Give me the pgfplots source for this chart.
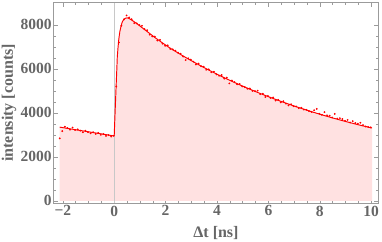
\documentclass[border=0pt]{standalone}
\usepackage{fontspec}
\setmainfont{Liberation Serif}
\usepackage{pgfplots}
\pgfplotsset{compat=1.18}
\definecolor{txtgray}{RGB}{102,102,102}
\definecolor{frgray}{RGB}{155,155,155}
\definecolor{fillpink}{RGB}{255,225,225}
\definecolor{zerogray}{RGB}{200,200,200}
\begin{document}
\begin{tikzpicture}
\begin{axis}[
  scale only axis, width=325.4bp, height=200.3bp,
  xmin=-2.37, xmax=10.29, ymin=-100, ymax=9010,
  axis line style={frgray, line width=0.6bp},
  tick style={frgray, line width=0.5bp},
  tick align=inside,
  major tick length=4.5bp, minor tick length=2.5bp,
  xtick={-2,0,2,4,6,8,10},
  xticklabels={−2,0,2,4,6,8,10},
  ytick={0,2000,4000,6000,8000},
  yticklabels={0,2000,4000,6000,8000},
  minor x tick num=3, minor y tick num=3,
  ticklabel style={font=\fontsize{15.5bp}{17bp}\selectfont\bfseries, text=txtgray},
  yticklabel style={inner sep=1.5bp},
  xticklabel style={inner sep=2.5bp},
  label style={font=\fontsize{16bp}{18bp}\selectfont\bfseries, text=txtgray},
  xlabel={Δt [ns]},
  ylabel={intensity [counts]},
  xlabel style={at={(axis description cs:0.5,-0.15)}, anchor=center},
  ylabel style={at={(axis description cs:-0.136,0.5)}, anchor=center},
  clip=false,
]
% filled area under fit
\addplot[draw=none, fill=fillpink, forget plot] coordinates {
(-2.12,0) (-2.12,3350) (-0.01,2950) (0.0,2960) (0.02,3600) (0.05,4500) (0.07,5100) (0.1,5950) (0.12,6550) (0.15,7000) (0.18,7370) (0.22,7700) (0.27,7970) (0.32,8150) (0.38,8260) (0.45,8310) (0.51,8320) (0.58,8290)
(0.68,8220) (0.78,8140) (0.88,8060) (0.98,7970) (1.08,7880) (1.18,7790) (1.28,7700) (1.38,7610) (1.48,7520) (1.58,7430) (1.68,7345) (1.78,7262) (1.88,7180) (1.98,7100) (2.08,7020) (2.18,6940) (2.28,6868) (2.38,6797) (2.48,6726) (2.58,6657) (2.68,6588) (2.78,6520) (2.88,6453) (2.98,6387) (3.08,6322) (3.18,6258) (3.28,6194) (3.38,6131) (3.48,6069) (3.58,6008) (3.68,5947) (3.78,5887) (3.88,5828) (3.98,5770) (4.08,5712) (4.18,5656) (4.28,5599) (4.38,5544) (4.48,5489) (4.58,5435) (4.68,5381) (4.78,5329) (4.88,5277) (4.98,5225) (5.08,5174) (5.18,5124) (5.28,5074) (5.38,5025) (5.48,4977) (5.58,4929) (5.68,4882) (5.78,4836) (5.88,4790) (5.98,4744) (6.08,4699) (6.18,4655) (6.28,4611) (6.38,4568) (6.48,4525) (6.58,4483) (6.68,4442) (6.78,4401) (6.88,4360) (6.98,4320) (7.08,4280) (7.18,4241) (7.28,4203) (7.38,4165) (7.48,4127) (7.58,4090) (7.68,4053) (7.78,4017) (7.88,3981) (7.98,3945) (8.08,3911) (8.18,3876) (8.28,3842) (8.38,3808) (8.48,3775) (8.58,3742) (8.68,3710) (8.78,3678) (8.88,3646) (8.98,3615) (9.08,3584) (9.18,3554) (9.28,3524) (9.38,3494) (9.48,3465) (9.58,3436) (9.68,3407) (9.78,3379) (9.88,3351) (9.98,3323) (10.03,3310) (10.03,0)
} -- cycle;
% zero line
\addplot[zerogray, line width=0.8bp, forget plot] coordinates {(0,-100) (0,9010)};
% fit line
\addplot[red, line width=0.95bp, forget plot] coordinates {
(-2.12,3350) (-0.01,2950) (0.0,2960) (0.02,3600) (0.05,4500) (0.07,5100) (0.1,5950) (0.12,6550) (0.15,7000) (0.18,7370) (0.22,7700) (0.27,7970) (0.32,8150) (0.38,8260) (0.45,8310) (0.51,8320) (0.58,8290)
(0.68,8220) (0.78,8140) (0.88,8060) (0.98,7970) (1.08,7880) (1.18,7790) (1.28,7700) (1.38,7610) (1.48,7520) (1.58,7430) (1.68,7345) (1.78,7262) (1.88,7180) (1.98,7100) (2.08,7020) (2.18,6940) (2.28,6868) (2.38,6797) (2.48,6726) (2.58,6657) (2.68,6588) (2.78,6520) (2.88,6453) (2.98,6387) (3.08,6322) (3.18,6258) (3.28,6194) (3.38,6131) (3.48,6069) (3.58,6008) (3.68,5947) (3.78,5887) (3.88,5828) (3.98,5770) (4.08,5712) (4.18,5656) (4.28,5599) (4.38,5544) (4.48,5489) (4.58,5435) (4.68,5381) (4.78,5329) (4.88,5277) (4.98,5225) (5.08,5174) (5.18,5124) (5.28,5074) (5.38,5025) (5.48,4977) (5.58,4929) (5.68,4882) (5.78,4836) (5.88,4790) (5.98,4744) (6.08,4699) (6.18,4655) (6.28,4611) (6.38,4568) (6.48,4525) (6.58,4483) (6.68,4442) (6.78,4401) (6.88,4360) (6.98,4320) (7.08,4280) (7.18,4241) (7.28,4203) (7.38,4165) (7.48,4127) (7.58,4090) (7.68,4053) (7.78,4017) (7.88,3981) (7.98,3945) (8.08,3911) (8.18,3876) (8.28,3842) (8.38,3808) (8.48,3775) (8.58,3742) (8.68,3710) (8.78,3678) (8.88,3646) (8.98,3615) (9.08,3584) (9.18,3554) (9.28,3524) (9.38,3494) (9.48,3465) (9.58,3436) (9.68,3407) (9.78,3379) (9.88,3351) (9.98,3323) (10.03,3310)
};
% data points
\addplot[only marks, mark=*, mark size=0.7bp, red, forget plot] coordinates {
(-2.12,2840) (-2.02,3170) (-1.92,3370) (-1.82,3310) (-1.72,3240) (-1.62,3330) (-1.52,3220) (-1.42,3250) (-1.32,3190) (-1.22,3120) (-1.12,3190) (-1.02,3120) (-0.92,3070) (-0.82,3120) (-0.72,3040) (-0.62,3090) (-0.52,3000) (-0.42,3040) (-0.32,2950) (-0.22,2990) (-0.12,2920) (-0.02,2960)
(0.08,5200) (0.18,7200) (0.28,7960) (0.38,8250) (0.48,8430) (0.58,8340) (0.68,8260) (0.78,8080) (0.88,8070) (0.98,7990) (1.08,7960) (1.18,7810) (1.28,7760) (1.38,7560) (1.48,7480) (1.58,7470) (1.68,7290) (1.78,7320) (1.88,7150) (1.98,7050) (2.08,7070) (2.18,6910) (2.28,6890) (2.38,6830) (2.48,6740) (2.58,6690) (2.68,6560) (2.78,6400) (2.88,6480) (2.98,6420) (3.08,6330) (3.18,6200) (3.28,6240) (3.38,6120) (3.48,6100) (3.58,5960) (3.68,5980) (3.78,5850) (3.88,5870) (3.98,5750) (4.08,5690) (4.18,5720) (4.28,5560) (4.38,5600) (4.48,5340) (4.58,5470) (4.68,5400) (4.78,5300) (4.88,5310) (4.98,5200) (5.08,5170) (5.18,5100) (5.28,5110) (5.38,5000) (5.48,4990) (5.58,5010) (5.68,4850) (5.78,4870) (5.88,4720) (5.98,4770) (6.08,4680) (6.18,4700) (6.28,4560) (6.38,4590) (6.48,4480) (6.58,4530) (6.68,4420) (6.78,4340) (6.88,4390) (6.98,4300) (7.08,4290) (7.18,4210) (7.28,4230) (7.38,4150) (7.48,4140) (7.58,4080) (7.68,4040) (7.78,4120) (7.88,4180) (7.98,3960) (8.08,3910) (8.18,4030) (8.28,3890) (8.38,3870) (8.48,3790) (8.58,3950) (8.68,3740) (8.78,3760) (8.88,3720) (8.98,3640) (9.08,3680) (9.18,3560) (9.28,3620) (9.38,3540) (9.48,3510) (9.58,3550) (9.68,3440) (9.78,3380) (9.88,3360) (9.98,3340)
};
\end{axis}
\pgfresetboundingbox
\path (-53.3bp,-39bp) rectangle (328.7bp,203bp);
\end{tikzpicture}
\end{document}
